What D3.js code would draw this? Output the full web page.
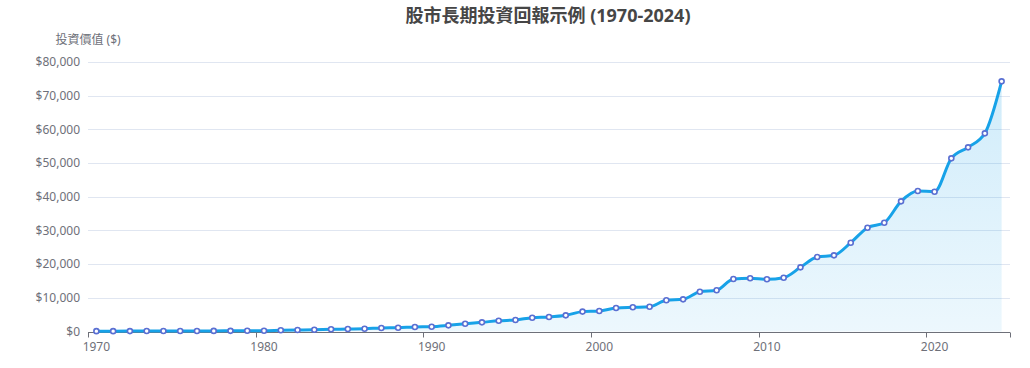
<!DOCTYPE html>
<html><head><meta charset="utf-8">
<script src="https://cdn.jsdelivr.net/npm/d3@7/dist/d3.min.js"></script>
<style>
html,body{margin:0;padding:0;background:#fff;}
svg{display:block;font-family:"Noto Sans","Noto Sans CJK TC",sans-serif;}
</style></head>
<body><svg id="chart" width="1030" height="368"></svg>
<script>
const titleText = "股市長期投資回報示例 (1970-2024)";
const yAxisName = "投資價值 ($)";
const years = d3.range(1970, 2025);
const values = [
  100, 110, 120, 130, 140, 150, 165, 180, 200, 220,
  240, 360, 450, 540, 650, 740, 830, 1040, 1130, 1340,
  1430, 1830, 2320, 2720, 3210, 3410, 4100, 4300, 4800, 5900,
  6080, 6970, 7180, 7360, 9260, 9550, 11800, 12230, 15580, 15790,
  15490, 15970, 19050, 22110, 22610, 26360, 30820, 32300, 38640, 41700,
  41500, 51400, 54670, 58820, 74250
];
const yTicks = [0, 10000, 20000, 30000, 40000, 50000, 60000, 70000, 80000];
const xLabelYears = [1970, 1980, 1990, 2000, 2010, 2020];

const W = 1030, H = 368;
const m = {left: 88, right: 1010, top: 62, bottom: 331.5};
const svg = d3.select("#chart");
const data = years.map((y, i) => ({year: y, value: values[i]}));

const x = d3.scaleBand().domain(years).range([m.left, m.right]);
const y = d3.scaleLinear().domain([0, 80000]).range([m.bottom, m.top]);
const cx = d => x(d.year) + x.bandwidth() / 2;

// defs gradient
const defs = svg.append("defs");
const grad = defs.append("linearGradient").attr("id", "areaGrad")
  .attr("x1", 0).attr("y1", 0).attr("x2", 0).attr("y2", 1);
grad.append("stop").attr("offset", "0%").attr("stop-color", "rgb(22,160,232)").attr("stop-opacity", 0.2);
grad.append("stop").attr("offset", "100%").attr("stop-color", "rgb(22,160,232)").attr("stop-opacity", 0.08);

// gridlines
svg.append("g").selectAll("line").data(yTicks.filter(t => t > 0)).join("line")
  .attr("x1", m.left).attr("x2", m.right)
  .attr("y1", d => Math.round(y(d)) + 0.5).attr("y2", d => Math.round(y(d)) + 0.5)
  .attr("stroke", "#e0e6f1").attr("stroke-width", 1);

// y labels
svg.append("g").selectAll("text").data(yTicks).join("text")
  .attr("x", m.left - 8).attr("y", d => y(d)).attr("dy", "0.35em")
  .attr("text-anchor", "end").attr("font-size", 12).attr("fill", "#6e7079")
  .text(d => "$" + d3.format(",")(d));

// area + line
const curve = d3.curveMonotoneX;
const area = d3.area().x(cx).y0(y(0)).y1(d => y(d.value)).curve(curve);
const line = d3.line().x(cx).y(d => y(d.value)).curve(curve);
svg.append("path").datum(data).attr("d", area).attr("fill", "url(#areaGrad)");

// x axis
const axY = Math.round(y(0)) + 0.5;
svg.append("line").attr("x1", m.left).attr("x2", m.right).attr("y1", axY).attr("y2", axY)
  .attr("stroke", "#6e7079").attr("stroke-width", 1);
const tickXs = xLabelYears.map(yr => x(yr)).concat([m.right]);
svg.append("g").selectAll("line").data(tickXs).join("line")
  .attr("x1", d => Math.round(d) + 0.5).attr("x2", d => Math.round(d) + 0.5)
  .attr("y1", axY).attr("y2", axY + 5).attr("stroke", "#6e7079");
svg.append("g").selectAll("text").data(xLabelYears).join("text")
  .attr("x", yr => x(yr) + x.bandwidth() / 2).attr("y", axY + 14).attr("dy", "0.35em")
  .attr("text-anchor", "middle").attr("font-size", 12).attr("fill", "#6e7079")
  .text(d => d);

svg.append("path").datum(data).attr("d", line).attr("fill", "none")
  .attr("stroke", "#17a2e8").attr("stroke-width", 3).attr("stroke-linejoin", "round");

svg.append("g").selectAll("circle").data(data).join("circle")
  .attr("cx", cx).attr("cy", d => y(d.value)).attr("r", 2.5)
  .attr("fill", "#fff").attr("stroke", "#5a6fd2").attr("stroke-width", 1.6);

// title
svg.append("text").attr("x", W / 2 + 33).attr("y", 16).attr("dy", "0.35em")
  .attr("text-anchor", "middle").attr("font-size", 18).attr("font-weight", "bold")
  .attr("fill", "#464646").text(titleText);

// y axis name
svg.append("text").attr("x", m.left).attr("y", 40).attr("dy", "0.35em")
  .attr("text-anchor", "middle").attr("font-size", 12).attr("fill", "#6e7079")
  .text(yAxisName);
</script></body></html>
